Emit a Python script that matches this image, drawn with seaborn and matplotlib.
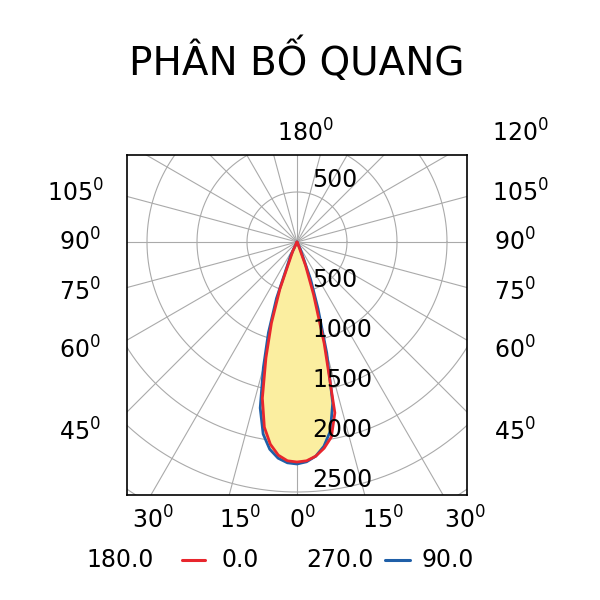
import numpy as np
import matplotlib.pyplot as plt
import seaborn as sns

sns.set_theme(style="white")
plt.rcParams['font.family'] = ['DejaVu Sans']
plt.rcParams['text.color'] = 'black'

# gamma angles (deg from nadir) and intensities (cd) per half-plane
angles = [0, 2.5, 5, 7.5, 10, 12.5, 15, 17.5, 20, 25, 30]
c0 = [2200, 2190, 2150, 2080, 1980, 1750, 1050, 550, 250, 20, 0]
c180 = [2200, 2190, 2140, 2040, 1880, 1600, 1200, 850, 500, 100, 0]
c90 = [2220, 2200, 2150, 2060, 1920, 1650, 1150, 700, 400, 80, 0]
c270 = [2220, 2210, 2170, 2090, 1950, 1700, 1300, 950, 600, 150, 0]
rings = [500, 1000, 1500, 2000, 2500]
red, blue = '#e8262d', '#1f5fa8'


def curve(left, right):
    a = np.radians(angles)
    xl = -np.array(left) * np.sin(a)
    yl = -np.array(left) * np.cos(a)
    xr = np.array(right) * np.sin(a)
    yr = -np.array(right) * np.cos(a)
    return np.r_[xl[::-1], xr], np.r_[yl[::-1], yr]


fig = plt.figure(figsize=(6, 6), dpi=100)
ax = fig.add_axes([127 / 600, 105 / 600, 340 / 600, 340 / 600])
ax.set_xlim(-1700, 1700)
ax.set_ylim(-2530, 870)

t = np.linspace(0, 2 * np.pi, 400)
for r in rings + [3000]:
    ax.plot(r * np.cos(t), r * np.sin(t), color='#aaaaaa', lw=0.8, zorder=1)
for d in range(0, 360, 15):
    a = np.radians(d)
    ax.plot([0, 4000 * np.cos(a)], [0, 4000 * np.sin(a)], color='#aaaaaa', lw=0.8, zorder=1)

bx, by = curve(c270, c90)
ax.fill(bx, by, color='#fbeea0', zorder=2)
ax.plot(bx, by, color=blue, lw=2, zorder=3)
rx, ry = curve(c180, c0)
ax.plot(rx, ry, color=red, lw=2, zorder=4)

ax.text(150, 500, '500', fontsize=17, va='bottom', zorder=5)
for r in rings:
    ax.text(150, -r, str(r), fontsize=17, va='bottom', zorder=5)

ax.set_xticks([])
ax.set_yticks([])
for s in ax.spines.values():
    s.set_color('black')
    s.set_linewidth(1.2)


def lab(x, y, s):
    fig.text(x / 600, 1 - y / 600, s + r'$^{\mathregular{0}}$', fontsize=17, ha='center', va='center')


fig.text(297 / 600, 1 - 60 / 600, 'PHÂN BỐ QUANG', fontsize=28, ha='center', va='center')
lab(305, 133, '180')
lab(520, 133, '120')
for y, s in [(193, '105'), (242, '90'), (292, '75'), (350, '60'), (432, '45')]:
    lab(75 if len(s) == 3 else 80, y, s)
    lab(520 if len(s) == 3 else 515, y, s)
for x, s in [(153, '30'), (240, '15'), (302, '0'), (383, '15'), (465, '30')]:
    lab(x, 520, s)

ly = 1 - 560 / 600
fig.text(120 / 600, ly, '180.0', fontsize=17, ha='center', va='center')
fig.add_artist(plt.Line2D([182 / 600, 205 / 600], [ly, ly], color=red, lw=2.2))
fig.text(240 / 600, ly, '0.0', fontsize=17, ha='center', va='center')
fig.text(340 / 600, ly, '270.0', fontsize=17, ha='center', va='center')
fig.add_artist(plt.Line2D([385 / 600, 410 / 600], [ly, ly], color=blue, lw=2.2))
fig.text(448 / 600, ly, '90.0', fontsize=17, ha='center', va='center')

fig.savefig('out.png', dpi=100)
